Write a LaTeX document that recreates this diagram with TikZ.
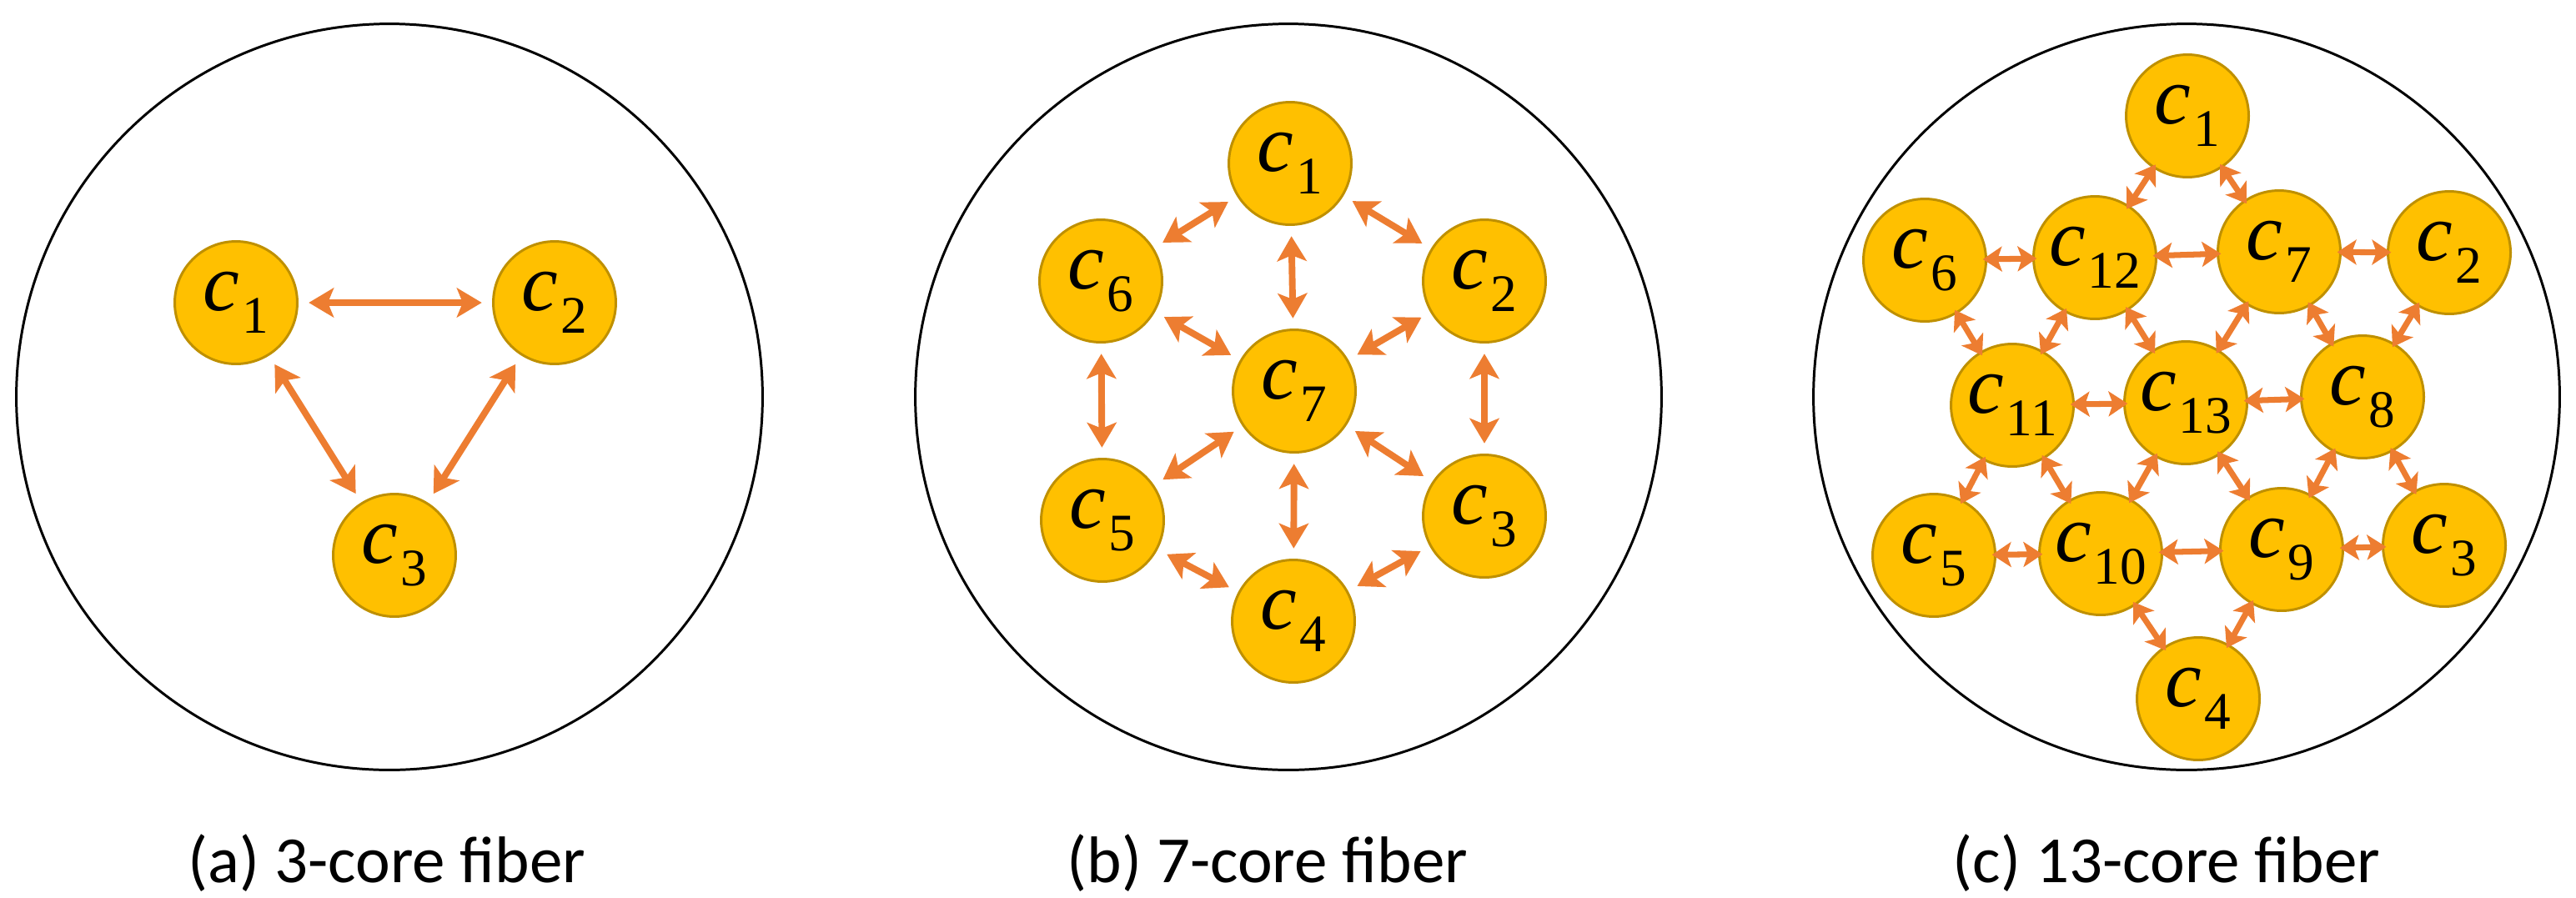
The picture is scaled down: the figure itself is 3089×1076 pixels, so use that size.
\documentclass[tikz,border=0pt]{standalone}
\usepackage{fontspec}
\setmainfont{Carlito}
\newfontfamily\mf{Liberation Serif}
\newcommand{\cc}[1]{{\mf\itshape c}\kern0.03em\raisebox{-0.28em}{\mf\fontsize{36}{40}\selectfont #1}}
\usetikzlibrary{arrows.meta}
\definecolor{core}{HTML}{FFC000}
\definecolor{coreb}{HTML}{BF9000}
\definecolor{arr}{HTML}{ED7D31}
\begin{document}
\begin{tikzpicture}[x=0.02cm,y=-0.02cm,
  core/.style={circle,fill=core,draw=coreb,line width=1.7pt,minimum size=2.94cm,inner sep=0pt,font=\fontsize{56}{60}\selectfont},
  fib/.style={draw=black,line width=1.7pt},
  lab/.style={font=\fontsize{45}{50}\selectfont},
  link/.style={arr,line width=4.5pt,{Stealth[length=17pt,width=20pt,inset=4pt]}-{Stealth[length=17pt,width=20pt,inset=4pt]},shorten <=7pt,shorten >=7pt}]
\useasboundingbox (0,0) rectangle (3089,1076);
% (a)
\node[fib,circle,minimum size=17.9cm] (fa) at (467,476) {};
\node[core] (a1) at (283,363) {\cc{1}};
\node[core] (a2) at (665,363) {\cc{2}};
\node[core] (a3) at (473,666) {\cc{3}};
\draw[link] (a1) -- (a2);
\draw[link] (a1) -- (a3);
\draw[link] (a2) -- (a3);
\node[lab] (la) at (464,1035) {(a) 3-core fiber};
% (b)
\node[fib,circle,minimum size=17.9cm] (fb) at (1545,476) {};
\node[core] (b1) at (1547,196) {\cc{1}};
\node[core] (b6) at (1320,337) {\cc{6}};
\node[core] (b2) at (1780,337) {\cc{2}};
\node[core] (b7) at (1552,469) {\cc{7}};
\node[core] (b5) at (1322,624) {\cc{5}};
\node[core] (b3) at (1780,619) {\cc{3}};
\node[core] (b4) at (1551,745) {\cc{4}};
\foreach \u/\v in {b1/b6,b1/b2,b1/b7,b6/b7,b2/b7,b6/b5,b2/b3,b7/b5,b7/b3,b7/b4,b5/b4,b3/b4}
  \draw[link] (\u) -- (\v);
\node[lab] (lb) at (1520,1035) {(b) 7-core fiber};
% (c)
\node[fib,circle,minimum size=17.9cm] (fc) at (2622,476) {};
\node[core] (c1) at (2623,139) {\cc{1}};
\node[core] (c6) at (2308,312) {\cc{6}};
\node[core] (c12) at (2512,309) {\cc{12}};
\node[core] (c7) at (2733,302) {\cc{7}};
\node[core] (c2) at (2937,303) {\cc{2}};
\node[core] (c11) at (2413,486) {\cc{11}};
\node[core] (c13) at (2621,483) {\cc{13}};
\node[core] (c8) at (2833,476) {\cc{8}};
\node[core] (c5) at (2319,666) {\cc{5}};
\node[core] (c10) at (2519,664) {\cc{10}};
\node[core] (c9) at (2736,659) {\cc{9}};
\node[core] (c3) at (2931,654) {\cc{3}};
\node[core] (c4) at (2636,838) {\cc{4}};
\begin{scope}[link/.append style={shorten <=-3pt,shorten >=-3pt,line width=4pt,{Stealth[length=13pt,width=17pt,inset=3pt]}-{Stealth[length=13pt,width=17pt,inset=3pt]}}]
\foreach \u/\v in {c6/c12,c12/c7,c7/c2,c11/c13,c13/c8,c5/c10,c10/c9,c9/c3,c1/c12,c1/c7,c6/c11,c12/c11,c12/c13,c7/c13,c7/c8,c2/c8,c11/c5,c11/c10,c13/c10,c13/c9,c8/c9,c8/c3,c10/c4,c9/c4}
  \draw[link] (\u) -- (\v);
\end{scope}
\node[lab] (lc) at (2598,1035) {(c) 13-core fiber};
\end{tikzpicture}
\end{document}
